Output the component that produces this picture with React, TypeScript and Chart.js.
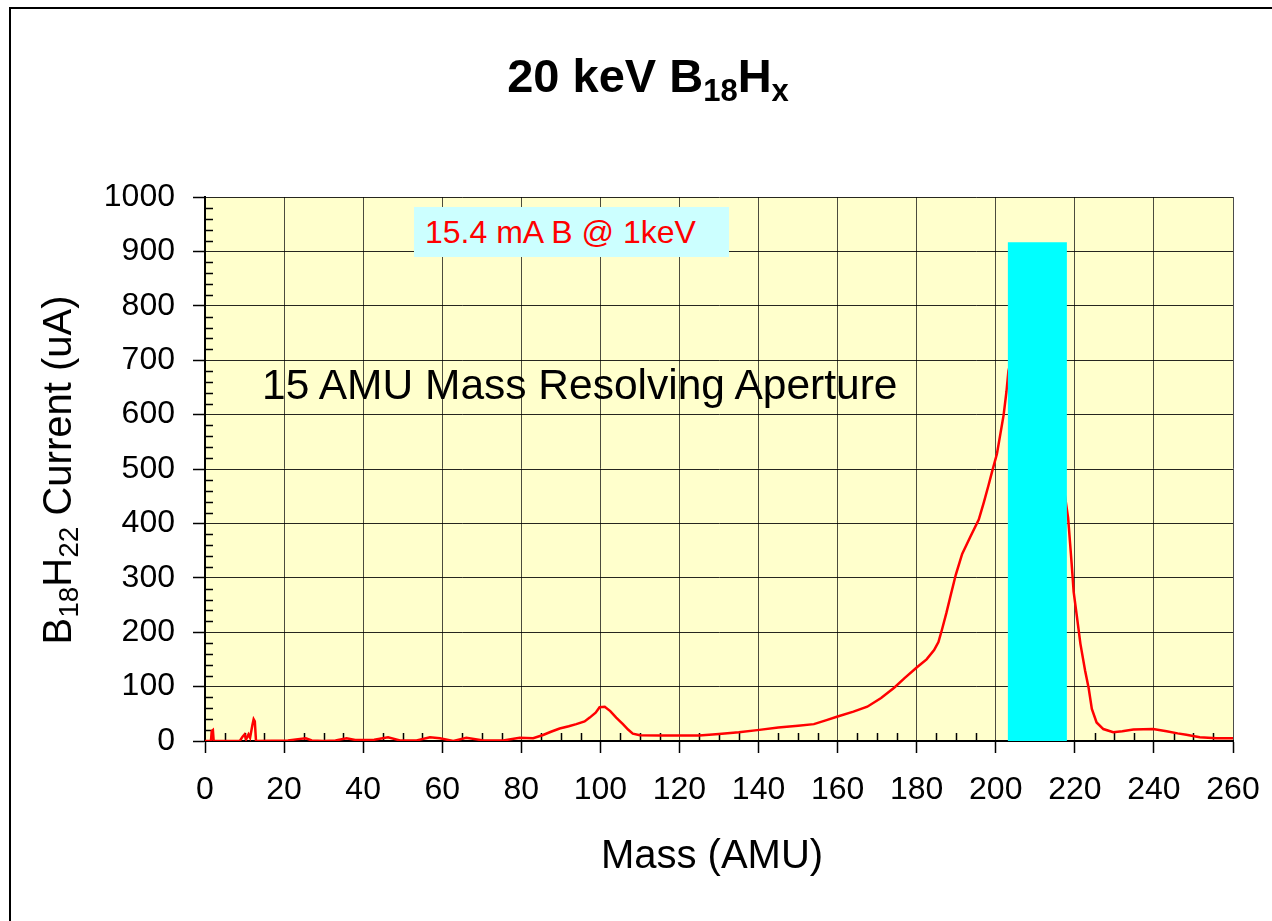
import React, { useEffect, useRef } from "react";
import { Chart, registerables } from "chart.js";

Chart.register(...registerables);

// ---------- data ----------
const massAMU: number[] = [
  0, 1.5, 1.7, 2.0, 2.2, 8.8, 9.5, 10, 10.4, 11, 11.4, 12, 12.3, 12.6, 12.9,
  21, 23, 25.5, 27, 30, 33, 35.8, 38, 42.8, 46.3, 49.3, 53.5, 56.9, 59.4, 62.8,
  66.1, 70.4, 75.4, 79.6, 83, 85.5, 87.5, 89.7, 92, 93.9, 96, 97.3, 98.8, 99.8,
  101.1, 102.5, 104, 105.7, 107, 108.2, 110, 115, 120, 125, 130, 135, 139.7,
  145, 150, 154, 157, 160, 164, 167.5, 171, 174.3, 177, 180, 181, 182.5, 184.4,
  185.5, 186.4, 187.5, 188.6, 189.9, 191.5, 193.6, 195.7, 197, 198.2, 199.1,
  200.3, 201.2, 202, 202.7, 203.2, 206, 210, 214, 217.5, 218.3, 218.8, 219.2,
  219.7, 220.5, 221.4, 222.6, 223.5, 224.3, 225.5, 227.2, 229.7, 232, 234.8,
  239.8, 243.2, 246, 248.2, 251.6, 255.8, 260,
];
const currentUA: number[] = [
  0, 0, 18, 20, 0, 0, 8, 12, 3, 12, 6, 30, 40, 36, 0,
  1, 3, 5, 1, 0, 1, 5, 2, 2.5, 7, 1, 1, 7, 5, 0,
  6, 1, 1, 6, 5, 11, 17, 23, 27, 31, 36, 43, 52, 62,
  63, 55, 43, 31, 21, 13.6, 10.5, 10, 10, 10, 13, 16, 20,
  25, 28, 31, 38, 45, 54, 63, 79, 98, 116, 135, 141, 150, 167,
  182, 205, 235, 268, 306, 344, 376, 407, 439, 471, 496,
  528, 566, 600, 642, 680, 760, 800, 650, 450, 410, 363, 325,
  274, 230, 179, 129, 97, 59, 34, 22, 16, 18, 21,
  22, 18, 14, 11.5, 7, 5, 5,
];

// mass-resolving aperture window (AMU) and its transmitted current (uA)
const apertureMass: number[] = [203, 218];
const apertureCurrent = 917;

const xMin = 0, xMax = 260, xMajor = 20, xMinor = 5;
const yMin = 0, yMax = 1000, yMajor = 100, yMinor = 20;

const FONT = "'Liberation Sans', Arial, Helvetica, sans-serif";

const plotBgPlugin = {
  id: "plotBg",
  beforeDraw(chart: any) {
    const { ctx, chartArea } = chart;
    ctx.save();
    ctx.fillStyle = "#FFFFCC";
    ctx.fillRect(chartArea.left, chartArea.top, chartArea.right - chartArea.left, chartArea.bottom - chartArea.top);
    ctx.restore();
  },
};

const minorTicksPlugin = {
  id: "minorTicks",
  beforeDatasetsDraw(chart: any) {
    const { ctx } = chart;
    const x = chart.scales.x;
    const y = chart.scales.y;
    ctx.save();
    ctx.strokeStyle = "#000";
    ctx.lineWidth = 1.5;
    ctx.beginPath();
    for (let v = xMin; v <= xMax; v += xMinor) {
      if (v % xMajor === 0) continue;
      const px = Math.round(x.getPixelForValue(v)) + 0.5;
      ctx.moveTo(px, y.bottom);
      ctx.lineTo(px, y.bottom - 8);
    }
    for (let v = yMin; v <= yMax; v += yMinor) {
      if (v % yMajor === 0) continue;
      const py = Math.round(y.getPixelForValue(v)) + 0.5;
      ctx.moveTo(x.left, py);
      ctx.lineTo(x.left + 8, py);
    }
    ctx.stroke();
    ctx.restore();
  },
};

function ChartCanvas() {
  const ref = useRef<HTMLCanvasElement | null>(null);
  useEffect(() => {
    if (!ref.current) return;
    const curve = massAMU.map((m, i) => ({ x: m, y: currentUA[i] }));
    const aperture = [
      { x: apertureMass[0], y: 0 },
      { x: apertureMass[0], y: apertureCurrent },
      { x: apertureMass[1], y: apertureCurrent },
      { x: apertureMass[1], y: 0 },
    ];
    const chart = new Chart(ref.current, {
      type: "scatter",
      data: {
        datasets: [
          {
            label: "Aperture",
            data: aperture,
            showLine: true,
            fill: "origin",
            backgroundColor: "#00FFFF",
            borderColor: "#00FFFF",
            borderWidth: 0,
            pointRadius: 0,
            tension: 0,
          },
          {
            label: "B18H22",
            data: curve,
            showLine: true,
            fill: false,
            borderColor: "#FF0000",
            borderWidth: 2.5,
            pointRadius: 0,
            tension: 0,
          },
        ],
      },
      options: {
        responsive: false,
        animation: false,
        devicePixelRatio: 1,
        layout: { padding: { left: 0, top: 197, right: 39, bottom: 0 } },
        plugins: {
          legend: { display: false },
          tooltip: { enabled: false },
          title: { display: false },
        },
        scales: {
          x: {
            type: "linear",
            min: xMin,
            max: xMax,
            afterFit: (s: any) => {
              s.height = 180;
              s.paddingLeft = 0;
              s.paddingRight = 0;
            },
            ticks: {
              stepSize: xMajor,
              padding: 18,
              color: "#000",
              font: { family: FONT, size: 32 },
              maxRotation: 0,
              autoSkip: false,
              callback: (v: any) => String(v),
            },
            grid: {
              color: "rgba(0,0,0,0.7)",
              lineWidth: 1,
              drawTicks: true,
              tickLength: 12,
              tickColor: "#000",
              tickWidth: 1.5,
            },
            border: { display: true, color: "#000", width: 2 },
            title: { display: false },
          },
          y: {
            type: "linear",
            min: yMin,
            max: yMax,
            afterFit: (s: any) => {
              s.width = 205;
              s.paddingTop = 0;
              s.paddingBottom = 0;
            },
            ticks: {
              stepSize: yMajor,
              padding: 18,
              color: "#000",
              font: { family: FONT, size: 32 },
              autoSkip: false,
              callback: (v: any) => String(v),
            },
            grid: {
              color: "rgba(0,0,0,0.85)",
              lineWidth: 1,
              drawTicks: true,
              tickLength: 12,
              tickColor: "#000",
              tickWidth: 1.5,
            },
            border: { display: true, color: "#000", width: 2 },
            title: { display: false },
          },
        },
      },
      plugins: [plotBgPlugin, minorTicksPlugin],
    } as any);
    return () => chart.destroy();
  }, []);
  return (
    <canvas
      ref={ref}
      width={1272}
      height={921}
      style={{ position: "absolute", left: 0, top: 0, width: 1272, height: 921 }}
    />
  );
}

export default function App() {
  const sub = (fs: number, shift: number): React.CSSProperties => ({
    fontSize: fs,
    position: "relative",
    top: shift,
    lineHeight: 0,
  });
  return (
    <div
      style={{
        position: "fixed",
        left: 0,
        top: 0,
        width: 1272,
        height: 921,
        background: "#fff",
        overflow: "hidden",
        fontFamily: FONT,
        color: "#000",
      }}
    >
      <ChartCanvas />
      {/* slide frame */}
      <div
        style={{
          position: "absolute",
          left: 9,
          top: 7,
          width: 1400,
          height: 1000,
          borderTop: "2px solid #000",
          borderLeft: "2px solid #000",
          pointerEvents: "none",
        }}
      />
      {/* title */}
      <div
        style={{
          position: "absolute",
          left: 648,
          top: 52,
          transform: "translateX(-50%)",
          fontSize: 47,
          lineHeight: "47px",
          fontWeight: "bold",
          whiteSpace: "nowrap",
        }}
      >
        20 keV B<span style={sub(31, 9)}>18</span>H<span style={sub(31, 9)}>x</span>
      </div>
      {/* y-axis title */}
      <div
        style={{
          position: "absolute",
          left: 57,
          top: 470,
          transform: "translate(-50%, -50%) rotate(-90deg)",
          fontSize: 40,
          lineHeight: "40px",
          whiteSpace: "nowrap",
        }}
      >
        B<span style={sub(28, 7)}>18</span>H<span style={sub(28, 7)}>22</span> Current (uA)
      </div>
      {/* x-axis title */}
      <div
        style={{
          position: "absolute",
          left: 712,
          top: 834,
          transform: "translateX(-50%)",
          fontSize: 40,
          lineHeight: "40px",
          whiteSpace: "nowrap",
        }}
      >
        Mass (AMU)
      </div>
      {/* annotation box */}
      <div
        style={{
          position: "absolute",
          left: 414,
          top: 207,
          width: 315,
          height: 50,
          background: "#CCFFFF",
          color: "#FF0000",
          fontSize: 32,
          lineHeight: "50px",
          paddingLeft: 11,
          boxSizing: "border-box",
          whiteSpace: "nowrap",
        }}
      >
        15.4 mA B @ 1keV
      </div>
      {/* aperture note */}
      <div
        style={{
          position: "absolute",
          left: 262,
          top: 364,
          fontSize: 42.5,
          lineHeight: "42.5px",
          whiteSpace: "nowrap",
        }}
      >
        15 AMU Mass Resolving Aperture
      </div>
    </div>
  );
}
